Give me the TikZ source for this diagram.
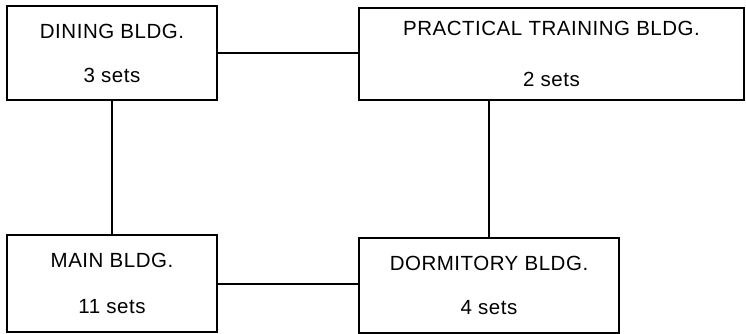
\documentclass[tikz,border=0pt]{standalone}
\usepackage{fontspec}
\setmainfont{Liberation Sans}[LetterSpace=2.5]
\begin{document}
\begin{tikzpicture}[x=1pt,y=-1pt,
  bldg/.style={draw, line width=1.3pt, inner sep=0pt, align=center,
    font=\fontsize{20.5}{24}\selectfont},
  link/.style={line width=2pt}]
\useasboundingbox (0,0) rectangle (746,334);
\node[bldg, minimum width=210pt, minimum height=94pt] (dining) at (112,53)
  {DINING BLDG.\\[20pt]3 sets};
\node[bldg, minimum width=385pt, minimum height=92pt] (practical) at (551.5,54)
  {PRACTICAL TRAINING BLDG.\\[27pt]2 sets};
\node[bldg, minimum width=210pt, minimum height=97pt] (main) at (112,283.5)
  {MAIN BLDG.\\[22pt]11 sets};
\node[bldg, minimum width=260pt, minimum height=95pt] (dorm) at (489,285.5)
  {DORMITORY BLDG.\\[20pt]4 sets};
\draw[link] (dining.east) -- (dining.east -| practical.west);
\draw[link] (dining.south) -- (main.north);
\draw[link] (dorm.north) -- (dorm.north |- practical.south);
\draw[link] (main.east) -- (main.east -| dorm.west);
\end{tikzpicture}
\end{document}
